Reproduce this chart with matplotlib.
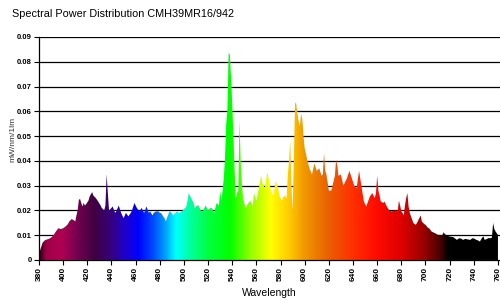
import numpy as np
import matplotlib
matplotlib.use("Agg")
from matplotlib import pyplot as plt
from matplotlib.colors import LinearSegmentedColormap
from matplotlib.patches import Polygon

plt.rcParams['font.family'] = ['Liberation Sans', 'DejaVu Sans']

# spectrum (nm, mW/nm/1lm)
wavelength = [380, 381, 383, 385, 388, 390, 392, 394, 396, 398, 400, 402, 404, 405, 407, 409,
              410, 411, 412, 413, 414, 415, 416, 417, 418, 419, 421, 422, 424, 425, 427, 429,
              431, 432, 434, 435, 436, 437, 438, 440, 441, 443, 444, 446, 448, 450, 452, 454,
              456, 457, 459, 461, 463, 465, 467, 469, 471, 472, 474, 475, 477, 479, 480, 481,
              483, 484, 485, 486, 488, 490, 491, 493, 494, 496, 498, 499, 501, 502, 503, 504,
              505, 506, 508, 509, 511, 512, 514, 515, 517, 518, 520, 522, 523, 525, 527, 529,
              530, 531, 532, 533, 534, 535, 536, 537, 538, 539, 540, 541, 542, 543, 544, 545,
              546, 547, 548, 549, 551, 553, 555, 557, 558, 560, 562, 564, 565, 567, 569, 571,
              572, 574, 576, 578, 579, 581, 583, 585, 586, 587, 588, 589, 590, 591, 592, 593,
              594, 595, 596, 597, 598, 599, 600, 601, 602, 604, 606, 608, 610, 612, 614, 615,
              616, 617, 618, 620, 622, 623, 625, 626, 627, 628, 630, 632, 634, 635, 637, 639,
              641, 643, 645, 647, 649, 651, 652, 654, 656, 658, 659, 660, 661, 662, 663, 665,
              666, 668, 670, 672, 674, 676, 677, 678, 679, 680, 681, 682, 683, 684, 685, 686,
              687, 688, 690, 692, 693, 694, 695, 696, 697, 699, 700, 702, 703, 705, 707, 708,
              710, 712, 714, 715, 716, 718, 720, 722, 723, 725, 726, 728, 730, 731, 733, 734,
              736, 737, 739, 741, 742, 744, 745, 747, 748, 749, 751, 752, 754, 755, 756, 757,
              758, 760]
power = [0.002, 0.004, 0.007, 0.008, 0.0085, 0.009, 0.010, 0.0115, 0.0128, 0.0125, 0.0128, 0.0135, 0.0145, 0.0155, 0.0165, 0.016,
         0.0155, 0.018, 0.020, 0.0243, 0.0246, 0.023, 0.0216, 0.023, 0.022, 0.0225, 0.024, 0.0257, 0.0274, 0.026, 0.025, 0.0236,
         0.022, 0.021, 0.020, 0.022, 0.0345, 0.027, 0.020, 0.021, 0.0216, 0.019, 0.0196, 0.022, 0.019, 0.0169, 0.019, 0.0176,
         0.019, 0.020, 0.023, 0.021, 0.0196, 0.021, 0.019, 0.0216, 0.019, 0.0196, 0.018, 0.019, 0.0196, 0.0196, 0.019, 0.019,
         0.0175, 0.0169, 0.0155, 0.017, 0.0196, 0.019, 0.018, 0.019, 0.0196, 0.019, 0.0195, 0.020, 0.021, 0.0216, 0.024, 0.027,
         0.026, 0.025, 0.023, 0.021, 0.022, 0.022, 0.020, 0.0196, 0.021, 0.022, 0.020, 0.021, 0.021, 0.019, 0.023, 0.022,
         0.028, 0.024, 0.028, 0.033, 0.041, 0.055, 0.0605, 0.0835, 0.083, 0.074, 0.063, 0.050, 0.036, 0.025, 0.027, 0.028,
         0.0565, 0.040, 0.031, 0.025, 0.021, 0.0227, 0.024, 0.022, 0.027, 0.024, 0.029, 0.034, 0.031, 0.029, 0.0355, 0.031,
         0.028, 0.026, 0.032, 0.029, 0.026, 0.024, 0.026, 0.025, 0.034, 0.040, 0.048, 0.030, 0.0196, 0.040, 0.0635, 0.063,
         0.059, 0.056, 0.054, 0.059, 0.057, 0.050, 0.045, 0.043, 0.0405, 0.037, 0.0345, 0.039, 0.036, 0.037, 0.034, 0.0345,
         0.043, 0.036, 0.0345, 0.028, 0.028, 0.030, 0.034, 0.0405, 0.038, 0.034, 0.0345, 0.030, 0.032, 0.033, 0.036, 0.033,
         0.030, 0.029, 0.036, 0.0297, 0.0236, 0.0216, 0.023, 0.0257, 0.027, 0.025, 0.027, 0.034, 0.028, 0.026, 0.0236, 0.023,
         0.0236, 0.0216, 0.020, 0.0196, 0.020, 0.020, 0.0196, 0.024, 0.022, 0.0196, 0.019, 0.018, 0.022, 0.025, 0.027, 0.0216,
         0.019, 0.0176, 0.0149, 0.0142, 0.015, 0.016, 0.017, 0.018, 0.0155, 0.0145, 0.0142, 0.013, 0.0128, 0.0115, 0.011, 0.0108,
         0.0102, 0.0101, 0.0101, 0.0112, 0.0105, 0.0097, 0.0095, 0.0093, 0.0092, 0.0085, 0.0081, 0.0088, 0.0085, 0.0081, 0.0085, 0.0084,
         0.0082, 0.0081, 0.0088, 0.0085, 0.0081, 0.0078, 0.0074, 0.009, 0.0095, 0.0081, 0.0085, 0.0088, 0.0088, 0.009, 0.0149, 0.0125,
         0.0115, 0.0101]

x_ticks = list(range(380, 761, 20))
y_ticks = [0, 0.01, 0.02, 0.03, 0.04, 0.05, 0.06, 0.07, 0.08, 0.09]
y_labels = ['0', '0.01', '0.02', '0.03', '0.04', '0.05', '0.06', '0.07', '0.08', '0.09']

# colour of the light at each wavelength
color_stops = [(380, '#300018'), (385, '#a00048'), (398, '#b00052'), (412, '#700050'),
               (425, '#400040'), (440, '#350080'), (450, '#2000c8'), (462, '#0000ff'),
               (475, '#0050ff'), (485, '#00a8ff'), (493, '#00ffff'), (505, '#00ffa0'),
               (520, '#00ff40'), (538, '#00ff00'), (555, '#90ff00'), (572, '#ffff00'),
               (588, '#ffc800'), (600, '#f09800'), (620, '#e86000'), (640, '#ff3000'),
               (660, '#ff0c00'), (680, '#e00000'), (698, '#a00000'), (712, '#500000'),
               (720, '#000000'), (762, '#000000')]

x_max = 761.7

fig = plt.figure(figsize=(5, 3.03), dpi=100)
ax = fig.add_axes([0.078, 0.142, 0.922, 0.736])

for v in y_ticks[1:]:
    ax.axhline(v, color='black', lw=0.9, zorder=1)

lo, hi = color_stops[0][0], color_stops[-1][0]
cmap = LinearSegmentedColormap.from_list(
    'spec', [((w - lo) / (hi - lo), c) for w, c in color_stops])
grad = np.linspace(lo, hi, 1000).reshape(1, -1)
im = ax.imshow(grad, cmap=cmap, vmin=lo, vmax=hi, aspect='auto',
               extent=[lo, hi, 0, 0.09], origin='lower', zorder=2,
               interpolation='bilinear')

wl = np.array(wavelength)
pw = np.array(power)
verts = np.column_stack([np.r_[wl[0], wl, wl[-1]], np.r_[0, pw, 0]])
shape = Polygon(verts, closed=True, facecolor='none', edgecolor='none',
                transform=ax.transData)
ax.add_patch(shape)
im.set_clip_path(shape)

ax.set_xlim(380, x_max)
ax.set_ylim(0, 0.09)

ax.spines['top'].set_visible(False)
ax.spines['right'].set_visible(False)
ax.spines['left'].set_linewidth(0.9)
ax.spines['bottom'].set_linewidth(0.9)
ax.spines['left'].set_zorder(3)
ax.spines['bottom'].set_zorder(3)

ax.set_xticks(x_ticks)
ax.set_xticklabels([str(t) for t in x_ticks], rotation=90, fontsize=6,
                   fontweight='bold')
ax.set_yticks(y_ticks)
ax.set_yticklabels(y_labels, fontsize=5.5, fontweight='bold')
ax.tick_params(axis='both', length=3.5, width=0.8, pad=1.5)

ax.set_xlabel('Wavelength', fontsize=7.5, labelpad=5)
fig.text(0.026, 0.54, 'mW/nm/1lm', fontsize=6, rotation=90,
         va='center', ha='center', color='#333333')

fig.text(0.024, 0.955, 'Spectral Power Distribution CMH39MR16/942',
         fontsize=7.8, va='center', ha='left')

fig.savefig('out.png', dpi=100)
